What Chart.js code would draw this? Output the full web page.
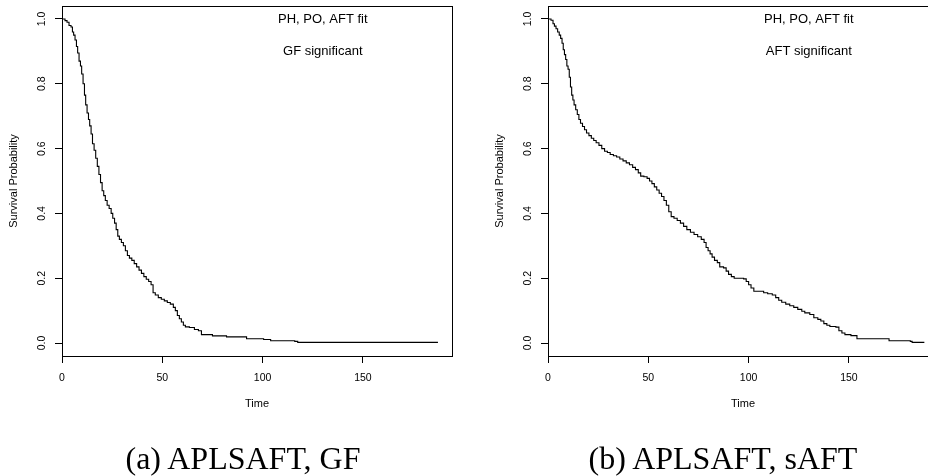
<!DOCTYPE html>
<html>
<head>
<meta charset="utf-8">
<script src="https://cdn.jsdelivr.net/npm/chart.js@4"></script>
<style>
  html, body { margin: 0; padding: 0; background: #fff; width: 928px; height: 476px; overflow: hidden; }
  #wrap { position: relative; width: 928px; height: 476px; overflow: hidden; }
  canvas { position: absolute; top: 0; }
  .cap {
    position: absolute; top: 442px; transform: translateX(-50%);
    font-family: "Liberation Serif", serif; font-size: 32px; line-height: 32px;
    white-space: nowrap; color: #000;
  }
</style>
</head>
<body>
<div id="wrap">
  <canvas id="gf" width="464" height="476" style="left:0px"></canvas>
  <canvas id="saft" width="464" height="476" style="left:486px"></canvas>
  <div class="cap" style="left:243px">(a) APLSAFT, GF</div>
  <div class="cap" style="left:723px">(b) APLSAFT, sAFT</div>
</div>
<script>
// Kaplan-Meier survival estimates (time, survival after the drop at that time)
const gfTime = [0, 1.5, 2.5, 3.5, 4.5, 5.2, 5.8, 6.5, 7.2, 7.8, 8.5, 9.2, 9.8, 10.5, 11.2, 11.8, 12.5, 13.2, 13.8, 14.5,
  15.2, 16, 16.8, 17.6, 18.4, 19.2, 20, 20.8, 21.6, 22.5, 23.5, 24.5, 25.3, 26.2, 27, 27.8, 28.6, 29.6, 30.6, 31.6,
  32.6, 33.6, 34.8, 36, 37.2, 38.4, 39.6, 40.8, 42, 43.2, 44.4, 45.4, 46.5, 48, 49.5, 51, 52.5, 54, 55.5, 56.5,
  57.5, 58.5, 59.5, 60.5, 61.5, 63.5, 66, 68, 69.5, 75, 82, 92, 100.5, 104, 116, 117.5, 187.4];
const gfSurv = [1, 0.995, 0.99, 0.98, 0.975, 0.96, 0.95, 0.935, 0.915, 0.895, 0.87, 0.855, 0.83, 0.80, 0.765, 0.735, 0.71, 0.69, 0.67, 0.645,
  0.615, 0.595, 0.57, 0.545, 0.52, 0.495, 0.47, 0.455, 0.44, 0.425, 0.415, 0.40, 0.385, 0.37, 0.35, 0.33, 0.32, 0.31, 0.30, 0.285,
  0.27, 0.262, 0.255, 0.245, 0.235, 0.225, 0.215, 0.205, 0.197, 0.19, 0.18, 0.155, 0.148, 0.14, 0.135, 0.13, 0.125, 0.12, 0.11, 0.10,
  0.085, 0.075, 0.065, 0.055, 0.05, 0.048, 0.042, 0.038, 0.026, 0.022, 0.019, 0.013, 0.011, 0.007, 0.005, 0.002, 0.002];

const saftTime = [0, 1.5, 2.5, 3.2, 4, 4.8, 5.6, 6.3, 7, 7.6, 8.2, 8.8, 9.4, 10, 10.6, 11.2, 11.8, 12.4, 13, 13.8,
  14.6, 15.4, 16.2, 17.2, 18.2, 19.2, 20.4, 21.6, 22.8, 24, 25.4, 26.8, 28.2, 29.6, 31, 32.6, 34.2, 35.8, 37.4, 39,
  40.6, 42.2, 43.6, 45, 46.2, 47.8, 49.4, 50.6, 51.8, 53, 54.2, 55.4, 56.6, 57.8, 59, 60.2, 61.4, 62.8, 64.4, 66,
  67.6, 69.2, 71, 72.8, 74.6, 76.4, 77.8, 78.8, 79.8, 80.8, 81.8, 83, 84.4, 85.6, 87.5, 88.8, 90, 91.4, 92.8, 97.5,
  98.8, 100, 101.2, 102.6, 107.5, 109.5, 111.8, 113.5, 115, 116.5, 118.5, 120.5, 122.5, 124.5, 126.5, 128, 130.5, 132.5, 134.5, 136,
  137.5, 139, 140.5, 143.5, 145, 146.5, 148, 151, 154, 167.3, 170, 180.6, 181.5, 187.6];
const saftSurv = [1, 0.996, 0.985, 0.978, 0.97, 0.96, 0.95, 0.94, 0.925, 0.905, 0.89, 0.875, 0.855, 0.845, 0.82, 0.79, 0.765, 0.75, 0.735, 0.72,
  0.705, 0.69, 0.678, 0.668, 0.658, 0.648, 0.64, 0.632, 0.625, 0.618, 0.61, 0.60, 0.592, 0.588, 0.582, 0.578, 0.574, 0.568, 0.562, 0.556,
  0.55, 0.542, 0.535, 0.525, 0.515, 0.513, 0.508, 0.50, 0.492, 0.482, 0.472, 0.462, 0.452, 0.44, 0.425, 0.405, 0.39, 0.385, 0.378, 0.37,
  0.36, 0.35, 0.342, 0.335, 0.328, 0.32, 0.31, 0.295, 0.285, 0.275, 0.265, 0.255, 0.248, 0.235, 0.232, 0.222, 0.212, 0.205, 0.2, 0.198,
  0.19, 0.18, 0.17, 0.16, 0.155, 0.152, 0.148, 0.14, 0.132, 0.126, 0.12, 0.115, 0.11, 0.104, 0.098, 0.093, 0.088, 0.078, 0.073, 0.068,
  0.06, 0.055, 0.051, 0.049, 0.038, 0.031, 0.026, 0.023, 0.013, 0.013, 0.007, 0.005, 0.002, 0.002];

// Axis ticks and in-plot notes
const xTickStep = 50;
const yTickStep = 0.2;
const xAxisTitle = 'Time';
const yAxisTitle = 'Survival Probability';
const fitNote = 'PH, PO, AFT fit';
const gfNote = 'GF significant';
const saftNote = 'AFT significant';
const noteX = 130;
const noteY = [1.0, 0.9];

const SANS = '"Liberation Sans", Arial, Helvetica, sans-serif';

function toPoints(times, surv) {
  const n = Math.min(times.length, surv.length);
  const pts = [];
  for (let i = 0; i < n; i++) pts.push({ x: times[i], y: surv[i] });
  return pts;
}

// Closed frame round the plotting region
const framePlugin = {
  id: 'frame',
  afterDatasetsDraw(chart) {
    const { ctx, chartArea: a } = chart;
    ctx.save();
    ctx.strokeStyle = '#000';
    ctx.lineWidth = 1;
    ctx.strokeRect(Math.round(a.left) + 0.5, Math.round(a.top) + 0.5,
      Math.round(a.right - a.left), Math.round(a.bottom - a.top));
    ctx.restore();
  }
};

// Text notes placed at data coordinates
const notesPlugin = {
  id: 'notes',
  afterDraw(chart, args, opts) {
    const { ctx, scales } = chart;
    ctx.save();
    ctx.fillStyle = '#000';
    ctx.font = '13px ' + SANS;
    ctx.textAlign = 'center';
    ctx.textBaseline = 'middle';
    opts.lines.forEach((txt, i) => {
      ctx.fillText(txt, scales.x.getPixelForValue(noteX), scales.y.getPixelForValue(noteY[i]));
    });
    ctx.restore();
  }
};

function survivalChart(id, times, surv, notes) {
  return new Chart(document.getElementById(id), {
    type: 'line',
    data: {
      datasets: [{
        data: toPoints(times, surv),
        borderColor: '#000',
        borderWidth: 1.1,
        pointRadius: 0,
        fill: false,
        stepped: true,
        tension: 0
      }]
    },
    options: {
      responsive: false,
      animation: false,
      devicePixelRatio: 1,
      layout: { padding: { left: 0, top: 6, right: 12, bottom: 64 } },
      plugins: {
        legend: { display: false },
        tooltip: { enabled: false },
        notes: { lines: notes }
      },
      scales: {
        x: {
          type: 'linear',
          min: 0,
          max: 194.4,
          border: { display: false },
          grid: { drawOnChartArea: false, drawTicks: true, tickLength: 7, color: '#000', lineWidth: 1 },
          ticks: {
            stepSize: xTickStep, includeBounds: false, autoSkip: false, maxRotation: 0,
            padding: 8.7, color: '#000', font: { family: SANS, size: 10.5 }
          },
          title: {
            display: true, text: xAxisTitle, color: '#000',
            font: { family: SANS, size: 11 }, padding: { top: 0, bottom: 1 }
          },
          afterFit(s) { s.height = 56; s.paddingLeft = 0; s.paddingRight = 0; }
        },
        y: {
          type: 'linear',
          min: -0.04,
          max: 1.04,
          border: { display: false },
          grid: { drawOnChartArea: false, drawTicks: true, tickLength: 7, color: '#000', lineWidth: 1 },
          ticks: {
            stepSize: yTickStep, includeBounds: false, minRotation: 90, maxRotation: 90,
            crossAlign: 'center', padding: 5.7, color: '#000', font: { family: SANS, size: 10.5 },
            callback: v => Number(v).toFixed(1)
          },
          title: {
            display: true, text: yAxisTitle, color: '#000',
            font: { family: SANS, size: 11 }, padding: { top: 7.4, bottom: 0 }
          },
          afterFit(s) { s.width = 62; s.paddingTop = 0; s.paddingBottom = 0; }
        }
      }
    },
    plugins: [framePlugin, notesPlugin]
  });
}

survivalChart('gf', gfTime, gfSurv, [fitNote, gfNote]);
survivalChart('saft', saftTime, saftSurv, [fitNote, saftNote]);
</script>
</body>
</html>
